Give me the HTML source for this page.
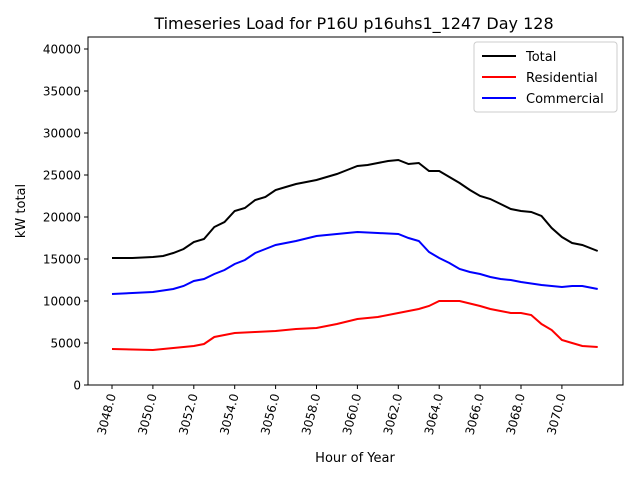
<!DOCTYPE html>
<html><head><meta charset="utf-8"><style>
body{margin:0;background:#fff;}
svg{display:block;font-family:"DejaVu Sans","Liberation Sans",sans-serif;}
</style></head><body>
<svg id="s" width="640" height="480" viewBox="0 0 640 480" xmlns="http://www.w3.org/2000/svg">
<rect width="640" height="480" fill="#fff"/>
<text x="354" y="29" font-size="16" text-anchor="middle">Timeseries Load for P16U p16uhs1_1247  Day 128</text>
<g id="ticks" font-size="12"></g>
<polyline id="tot" fill="none" stroke="#000" stroke-width="2"/>
<polyline id="res" fill="none" stroke="#f00" stroke-width="2"/>
<polyline id="com" fill="none" stroke="#00f" stroke-width="2"/>
<rect x="88" y="37" width="535" height="348" fill="none" stroke="#000" stroke-width="1"/>
<g>
<rect x="474" y="42" width="143" height="70" fill="#fff" stroke="#ccc" rx="3"/>
<line x1="482" y1="56" x2="516" y2="56" stroke="#000" stroke-width="2"/><text x="526" y="61" font-size="13">Total</text>
<line x1="482" y1="77" x2="516" y2="77" stroke="#f00" stroke-width="2"/><text x="526" y="82" font-size="13">Residential</text>
<line x1="482" y1="98" x2="516" y2="98" stroke="#00f" stroke-width="2"/><text x="526" y="103" font-size="13">Commercial</text>
</g>
<text x="355" y="462" font-size="13" text-anchor="middle">Hour of Year</text>
<text x="25" y="211" font-size="13" text-anchor="middle" transform="rotate(-90 25 211)">kW total</text>
</svg>
<script>
function X(h){return 112+(h-3048)*20.45;}
function pts(a){return a.map(p=>X(p[0]).toFixed(1)+","+p[1]).join(" ");}
var T=[[3048,258],[3049,258],[3049.5,257.5],[3050,257],[3050.5,256],[3051,253],[3051.5,249],[3052,242],[3052.5,239],[3053,227],[3053.5,222],[3054,211],[3054.5,208],[3055,200],[3055.5,197],[3056,190],[3056.5,187],[3057,184],[3057.5,182],[3058,180],[3058.5,177],[3059,174],[3059.5,170],[3060,166],[3060.5,165],[3061,163],[3061.5,161],[3062,160],[3062.5,164],[3063,163],[3063.5,171],[3064,171],[3064.5,177],[3065,183],[3065.5,190],[3066,196],[3066.5,199],[3067,204],[3067.5,209],[3068,211],[3068.5,212],[3069,216],[3069.5,228],[3070,237],[3070.5,243],[3071,245],[3071.75,251]];
var C=[[3048,294],[3049,293],[3050,292],[3051,289],[3051.5,286],[3052,281],[3052.5,279],[3053,274],[3053.5,270],[3054,264],[3054.5,260],[3055,253],[3055.5,249],[3056,245],[3057,241],[3058,236],[3059,234],[3060,232],[3061,233],[3062,234],[3062.5,238],[3063,241],[3063.5,252],[3064,258],[3064.5,263],[3065,269],[3065.5,272],[3066,274],[3066.5,277],[3067,279],[3067.5,280],[3068,282],[3069,285],[3070,287],[3070.5,286],[3071,286],[3071.75,289]];
var R=[[3048,349],[3049,349.5],[3050,350],[3051,348],[3052,346],[3052.5,344],[3053,337],[3054,333],[3055,332],[3056,331],[3057,329],[3058,328],[3059,324],[3060,319],[3061,317],[3062,313],[3062.5,311],[3063,309],[3063.5,306],[3064,301],[3065,301],[3066,306],[3066.5,309],[3067,311],[3067.5,313],[3068,313],[3068.5,315],[3069,324],[3069.5,330],[3070,340],[3070.5,343],[3071,346],[3071.75,347]];
document.getElementById("tot").setAttribute("points",pts(T));
document.getElementById("com").setAttribute("points",pts(C));
document.getElementById("res").setAttribute("points",pts(R));
var g=document.getElementById("ticks"),h="";
for(var k=0;k<=8;k++){var y=385-k*42;h+='<line x1="84" y1="'+y+'" x2="88" y2="'+y+'" stroke="#000"/><text x="81" y="'+(y+4.5)+'" text-anchor="end">'+(k*5000)+'</text>';}
for(var hr=3048;hr<=3070;hr+=2){var x=X(hr);h+='<line x1="'+x+'" y1="385" x2="'+x+'" y2="389" stroke="#000"/><text x="'+(x+4)+'" y="395" text-anchor="end" transform="rotate(-75 '+(x+4)+' 395)">'+hr+'.0</text>';}
g.innerHTML=h;
</script>
</body></html>
